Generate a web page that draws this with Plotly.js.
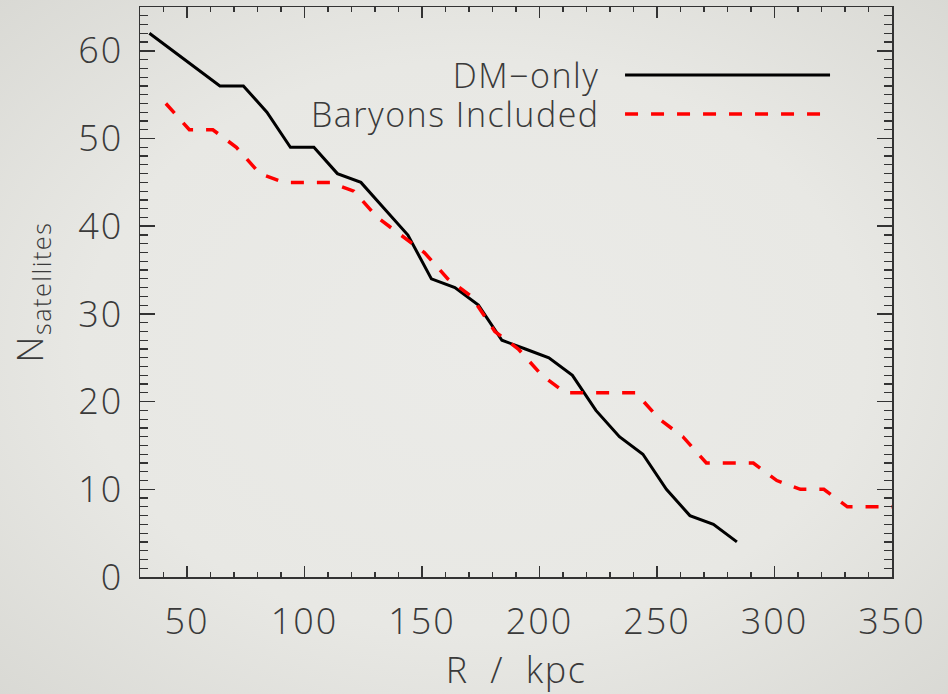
<!DOCTYPE html>
<html>
<head>
<meta charset="utf-8">
<script src="https://cdn.plot.ly/plotly-3.0.1.min.js"></script>
<style>
  html, body { margin: 0; padding: 0; }
  body {
    width: 948px; height: 694px; overflow: hidden;
    background: radial-gradient(ellipse 75% 75% at 50% 50%, #ebebe8 0%, #e8e8e4 55%, #d7d7d2 100%);
  }
  #chart { width: 948px; height: 694px; }
  /* wide, airy lettering for all chart text */
  #chart .xtick text, #chart .ytick text { letter-spacing: 2px; }
  #chart .annotation-text, #chart .g-xtitle text, #chart .g-ytitle text { letter-spacing: 1.5px; }
</style>
</head>
<body>
<div id="chart"></div>
<script>
// Cumulative satellite counts versus radius
const dmRadius = [34, 44, 54, 64, 74, 84, 94, 104, 114, 124, 134, 144, 154, 164, 174, 184, 194, 204, 214, 224, 234, 244, 254, 264, 274, 284];
const dmCount  = [62, 60, 58, 56, 56, 53, 49, 49, 46, 45, 42, 39, 34, 33, 31, 27, 26, 25, 23, 19, 16, 14, 10, 7, 6, 4];

const baryonRadius = [41, 51, 61, 71, 81, 91, 101, 111, 121, 131, 141, 151, 161, 171, 181, 191, 201, 211, 221, 231, 241, 251, 261, 271, 281, 291, 301, 311, 321, 331, 341, 351];
const baryonCount  = [54, 51, 51, 49, 46, 45, 45, 45, 44, 41, 39, 37, 34, 32, 28, 26, 23, 21, 21, 21, 21, 18, 16, 13, 13, 13, 11, 10, 10, 8, 8, 8];

const seriesNames = ['DM\u2212only', 'Baryons Included'];
const xTicks = [50, 100, 150, 200, 250, 300, 350];
const yTicks = [0, 10, 20, 30, 40, 50, 60];

const FONT = '"Open Sans", Lato, "DejaVu Sans", sans-serif';
const INK = '#3a3a3a';
const RED_DASH = '13px,13px';

const traces = [
  {
    x: dmRadius, y: dmCount, mode: 'lines', name: seriesNames[0],
    line: { color: '#000000', width: 3 }, hoverinfo: 'x+y'
  },
  {
    x: baryonRadius, y: baryonCount, mode: 'lines', name: seriesNames[1],
    line: { color: '#ff0000', width: 3.5, dash: RED_DASH }, hoverinfo: 'x+y'
  }
];

const axisCommon = {
  showgrid: false, zeroline: false,
  showline: true, linecolor: '#333333', linewidth: 1.5,
  mirror: 'allticks', ticks: 'inside', tickcolor: '#333333', tickwidth: 1.5,
  tickfont: { family: FONT, size: 36, color: INK, weight: 300 },
  tickmode: 'array'
};

const layout = {
  width: 948, height: 694,
  margin: { l: 140, r: 56, t: 7, b: 117 },
  paper_bgcolor: 'rgba(0,0,0,0)',
  plot_bgcolor: 'rgba(0,0,0,0)',
  showlegend: false,
  xaxis: Object.assign({}, axisCommon, {
    range: [30, 350], tickvals: xTicks, ticktext: xTicks.map(String),
    ticklen: 11, ticklabelstandoff: 12,
    minor: { dtick: 10, tick0: 0, ticks: 'inside', ticklen: 5, tickcolor: '#333333', tickwidth: 1.2 },
    title: { text: 'R\u00a0\u00a0/\u00a0\u00a0kpc', font: { family: FONT, size: 36, color: INK, weight: 300 }, standoff: 14 }
  }),
  yaxis: Object.assign({}, axisCommon, {
    range: [0, 65], tickvals: yTicks, ticktext: yTicks.map(String),
    ticklen: 15, ticklabelstandoff: 8,
    minor: { dtick: 1, tick0: 0, ticks: 'inside', ticklen: 8, tickcolor: '#333333', tickwidth: 1.2 },
    title: { text: 'N<sub>satellites</sub>', font: { family: FONT, size: 36, color: INK, weight: 300 }, standoff: 27 }
  }),
  shapes: [
    { type: 'line', xref: 'paper', yref: 'paper', x0: 0.645, x1: 0.9176, y0: 0.8807, y1: 0.8807,
      line: { color: '#000000', width: 3 } },
    { type: 'line', xref: 'paper', yref: 'paper', x0: 0.645, x1: 0.907, y0: 0.8123, y1: 0.8123,
      line: { color: '#ff0000', width: 3.5, dash: RED_DASH } }
  ],
  annotations: [
    { xref: 'paper', yref: 'paper', x: 0.606, y: 0.8807, xanchor: 'right', yanchor: 'middle',
      text: seriesNames[0], showarrow: false, font: { family: FONT, size: 34, color: INK, weight: 300 } },
    { xref: 'paper', yref: 'paper', x: 0.598, y: 0.8123, xanchor: 'right', yanchor: 'middle',
      text: seriesNames[1], showarrow: false, font: { family: FONT, size: 34, color: INK, weight: 300 } }
  ]
};

Plotly.newPlot('chart', traces, layout, { displayModeBar: false, staticPlot: true });
</script>
</body>
</html>
